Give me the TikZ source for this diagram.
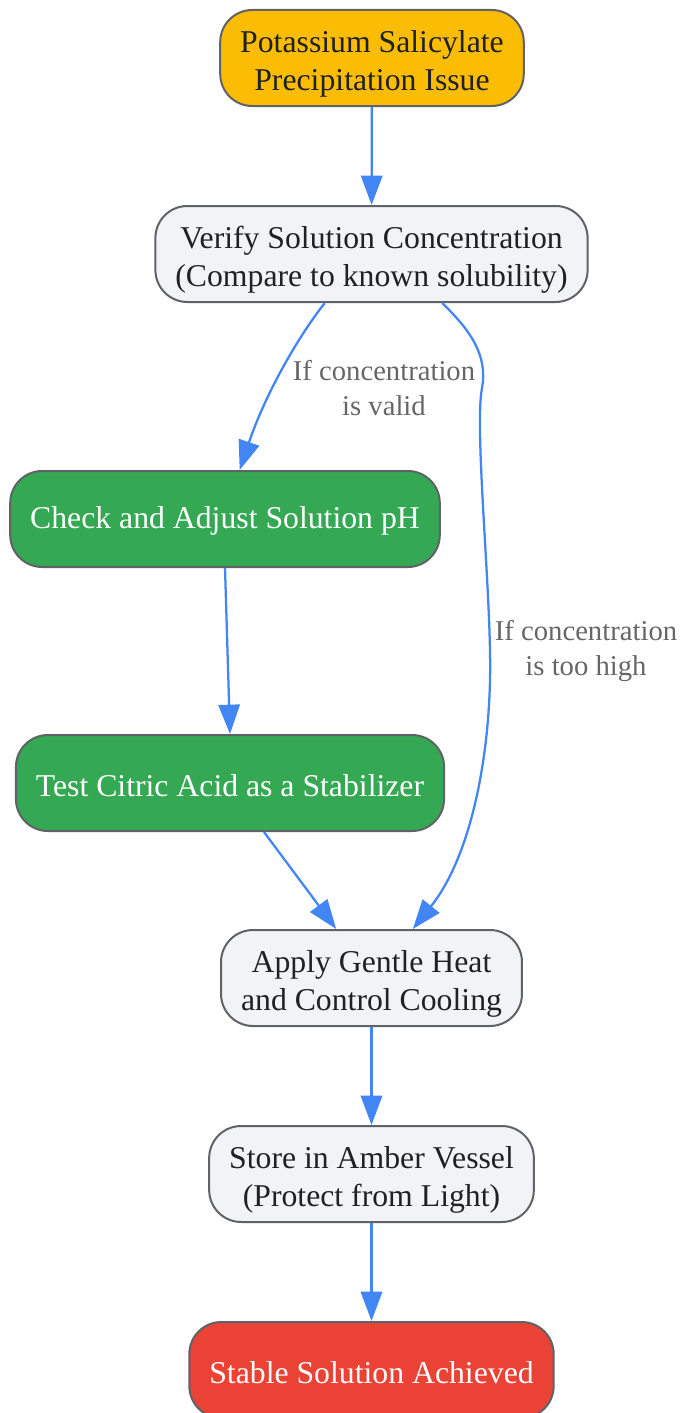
\documentclass[tikz,border=0pt]{standalone}
\usepackage{fontspec}
\setmainfont{Liberation Serif}
\usepackage{xcolor}
\usetikzlibrary{arrows.meta}

\definecolor{issueyellow}{HTML}{FBBC04}
\definecolor{stepgray}{HTML}{F1F3F4}
\definecolor{stepgreen}{HTML}{34A853}
\definecolor{donered}{HTML}{EA4335}
\definecolor{edgeblue}{HTML}{4285F4}
\definecolor{bordergray}{HTML}{5F6368}
\definecolor{textdark}{HTML}{202124}
\definecolor{labelgray}{HTML}{666666}

\begin{document}
\begin{tikzpicture}[
    x=0.75pt, y=-0.75pt,
    every node/.style={font=\fontsize{23.8}{28.5}\selectfont, align=center},
    lift/.style={execute at begin node={\rule{0pt}{#1}}},
    box/.style={draw=bordergray, line width=1.5pt, rounded corners=24pt,
        minimum height=72pt, inner xsep=15pt, text=textdark, lift=20pt},
    twoline/.style={lift=53.5pt},
    issue/.style={box, fill=issueyellow},
    plain/.style={box, fill=stepgray},
    action/.style={box, fill=stepgreen, text=white},
    done/.style={box, fill=donered, text=white},
    flow/.style={draw=edgeblue, line width=1.7pt,
        -{Triangle[length=22pt,width=16pt]}},
    cond/.style={text=labelgray, font=\fontsize{21.5}{26.5}\selectfont},
]
\useasboundingbox (0,0) rectangle (683,1413);

% Problem and first check
\node[issue,twoline] (issue) at (372,58) {Potassium Salicylate\\Precipitation Issue};
\node[plain,twoline] (verify) at (371.5,254) {Verify Solution Concentration\\(Compare to known solubility)};

% Valid concentration branch
\node[action] (ph) at (225,519) {Check and Adjust Solution pH};
\node[action] (citric) at (230,783) {Test Citric Acid as a Stabilizer};

% Common steps
\node[plain,twoline] (heat) at (371.5,978) {Apply Gentle Heat\\and Control Cooling};
\node[plain,twoline] (store) at (371.5,1174) {Store in Amber Vessel\\(Protect from Light)};
\node[done] (stable) at (371.5,1370) {Stable Solution Achieved};

% Connectors
\draw[flow] (issue) -- (verify);
\draw[flow] ([xshift=-35pt]verify.south)
    .. controls (300,334) and (266,392) .. ([xshift=11pt]ph.north);
\draw[flow] ([xshift=53pt]verify.south)
    .. controls (470,330) and (488,355) .. (482,388)
    .. controls (474,430) and (492,600) .. (490,680)
    .. controls (488,770) and (468,860) .. ([xshift=31pt]heat.north);
\draw[flow] (ph.south) -- (citric.north);
\draw[flow] ([xshift=25.5pt]citric.south) -- ([xshift=-26.5pt]heat.north);
\draw[flow] (heat) -- (store);
\draw[flow] (store) -- (stable);

% Branch labels
\node[cond] (validlbl) at (384,388) {If concentration\\is valid};
\node[cond] (highlbl) at (586,651) {If concentration\\is too high};

\end{tikzpicture}
\end{document}
